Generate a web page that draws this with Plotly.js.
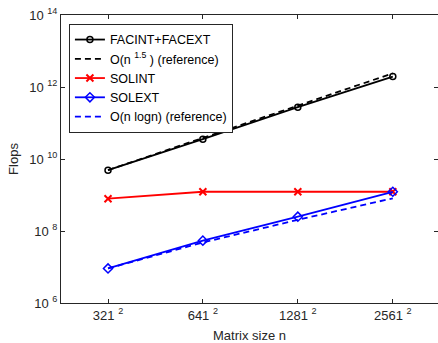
<!DOCTYPE html>
<html>
<head>
<meta charset="utf-8">
<script src="https://cdn.plot.ly/plotly-3.0.1.min.js"></script>
<style>html,body{margin:0;padding:0;background:#fff;}#chart{width:438px;height:343px;}</style>
</head>
<body>
<div id="chart"></div>
<script>
const matrixSides = [321, 641, 1281, 2561];
const matrixSizes = [103041, 410881, 1640961, 6558721];
const facFlops = [4.9e9, 3.55e10, 2.75e11, 1.95e12];
const facRef = [4.9e9, 3.9e10, 3.16e11, 2.4e12];
const solIntFlops = [7.9e8, 1.23e9, 1.23e9, 1.23e9];
const solExtFlops = [9.1e6, 5.4e7, 2.5e8, 1.23e9];
const solRef = [9.1e6, 4.8e7, 2.04e8, 8.1e8];
const xTickText = matrixSides.map(s => s + ' <sup>2</sup>');
const yTickVals = [1e6, 1e8, 1e10, 1e12, 1e14];
const yTickText = ['10 <sup>6</sup>', '10 <sup>8</sup>', '10 <sup>10</sup>', '10 <sup>12</sup>', '10 <sup>14</sup>'];

const FONT = 'Liberation Sans';

const traces = [
  {x: matrixSizes, y: facFlops, name: 'FACINT+FACEXT', mode: 'lines+markers',
   line: {color: '#000', width: 1.8}, marker: {symbol: 'circle-open', size: 6, color: '#000', line: {width: 1.5}}},
  {x: matrixSizes, y: facRef, name: 'O(n <sup>1.5</sup> ) (reference)', mode: 'lines',
   line: {color: '#000', width: 1.8, dash: '6px,4px'}},
  {x: matrixSizes, y: solIntFlops, name: 'SOLINT', mode: 'lines+markers',
   line: {color: '#ff0000', width: 1.8}, marker: {symbol: 'x-thin-open', size: 7, color: '#ff0000', line: {width: 2, color: '#ff0000'}}},
  {x: matrixSizes, y: solExtFlops, name: 'SOLEXT', mode: 'lines+markers',
   line: {color: '#0000ff', width: 1.8}, marker: {symbol: 'diamond-open', size: 7, color: '#0000ff', line: {width: 1.5}}},
  {x: matrixSizes, y: solRef, name: 'O(n logn) (reference)', mode: 'lines',
   line: {color: '#0000ff', width: 1.8, dash: '6px,4px'}}
];

const axisCommon = {
  showgrid: false, zeroline: false, showline: true, mirror: 'allticks',
  linecolor: '#262626', linewidth: 1, ticks: 'inside', ticklen: 4, tickcolor: '#262626',
  tickfont: {family: FONT, size: 13, color: '#262626'}
};

const layout = {
  width: 438, height: 343,
  margin: {l: 61, r: 0, t: 15, b: 40},
  paper_bgcolor: '#fff', plot_bgcolor: '#fff',
  showlegend: true,
  legend: {x: 0.021, y: 0.969, xanchor: 'left', yanchor: 'top', bgcolor: '#fff',
    bordercolor: '#262626', borderwidth: 1, tracegroupgap: 0,
    font: {family: FONT, size: 12.5, color: '#000'}},
  xaxis: Object.assign({}, axisCommon, {
    type: 'log', range: [4.7153, 7.103],
    tickmode: 'array', tickvals: matrixSizes, ticktext: xTickText,
    title: {text: 'Matrix size n', standoff: 9, font: {family: FONT, size: 13, color: '#262626'}}
  }),
  yaxis: Object.assign({}, axisCommon, {
    type: 'log', range: [6, 14],
    tickmode: 'array', tickvals: yTickVals, ticktext: yTickText,
    title: {text: 'Flops', standoff: 7, font: {family: FONT, size: 13, color: '#262626'}}
  })
};

Plotly.newPlot('chart', traces, layout, {displayModeBar: false, staticPlot: true});
</script>
</body>
</html>
